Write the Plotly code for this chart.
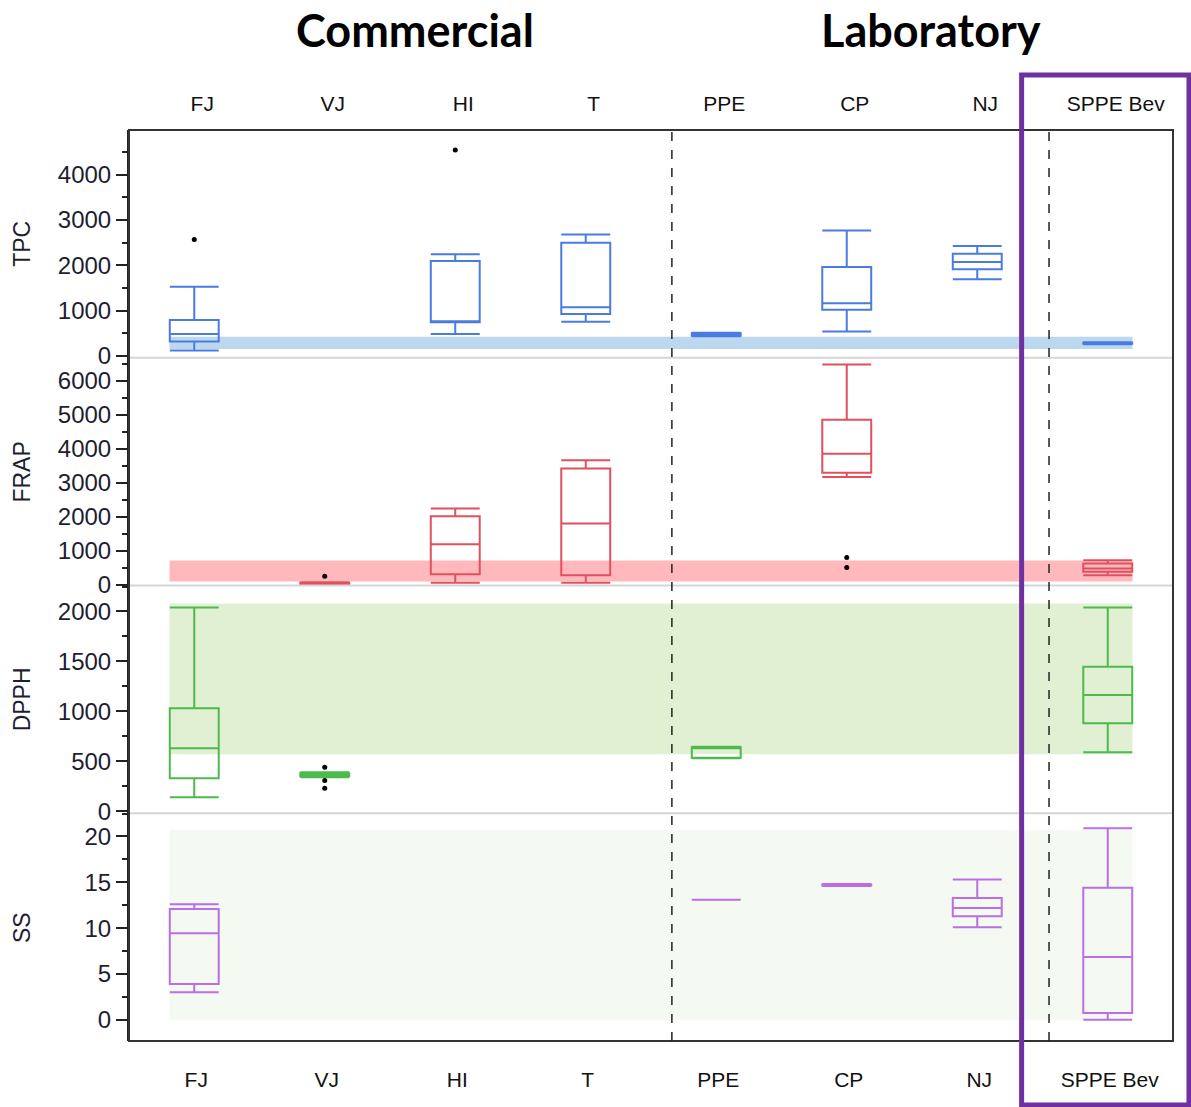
import plotly.graph_objects as go
from plotly.subplots import make_subplots

categories = ["FJ", "VJ", "HI", "T", "PPE", "CP", "NJ", "SPPE Bev"]

# TPC
tpc_lower  = [117, None, 483, 754, 430, 534, 1692, 255]
tpc_q1     = [315, None, 740, 923, 440, 1018, 1912, 265]
tpc_median = [483, None, 765, 1070, 470, 1158, 2073, 279]
tpc_q3     = [791, None, 2095, 2498, 500, 1963, 2256, 290]
tpc_upper  = [1523, None, 2242, 2681, 510, 2769, 2425, 300]
tpc_out_cat = ["FJ", "HI"]
tpc_out_val = [2571, 4549]
tpc_ref = [150, 420]

# FRAP
frap_lower  = [None, 0, 50, 50, None, 3167, None, 274]
frap_q1     = [None, 15, 303, 274, None, 3294, None, 373]
frap_median = [None, 35, 1186, 1794, None, 3853, None, 470]
frap_q3     = [None, 55, 2010, 3412, None, 4853, None, 618]
frap_upper  = [None, 70, 2235, 3657, None, 6480, None, 715]
frap_out_cat = ["VJ", "CP", "CP"]
frap_out_val = [245, 794, 500]
frap_ref = [90, 705]

# DPPH
dpph_lower  = [140, 340, None, None, 530, None, None, 590]
dpph_q1     = [330, 350, None, None, 535, None, None, 880]
dpph_median = [630, 365, None, None, 630, None, None, 1163]
dpph_q3     = [1030, 380, None, None, 640, None, None, 1447]
dpph_upper  = [2040, 390, None, None, 645, None, None, 2040]
dpph_out_cat = ["VJ", "VJ", "VJ"]
dpph_out_val = [440, 307, 230]
dpph_ref = [570, 2080]

# SS
ss_lower  = [3.0, None, None, None, 13.1, 14.6, 10.1, 0.0]
ss_q1     = [3.9, None, None, None, 13.1, 14.65, 11.3, 0.74]
ss_median = [9.45, None, None, None, 13.1, 14.7, 12.2, 6.85]
ss_q3     = [12.1, None, None, None, 13.1, 14.75, 13.3, 14.4]
ss_upper  = [12.6, None, None, None, 13.1, 14.8, 15.3, 20.9]
ss_ref = [0, 20.7]

panels = [
    ("TPC", tpc_lower, tpc_q1, tpc_median, tpc_q3, tpc_upper, tpc_out_cat, tpc_out_val, tpc_ref,
     "#4a7be0", "#bcd8ee", [-44, 4989], 1000, 500),
    ("FRAP", frap_lower, frap_q1, frap_median, frap_q3, frap_upper, frap_out_cat, frap_out_val, frap_ref,
     "#e0505f", "#ffb9bd", [-29, 6676], 1000, 500),
    ("DPPH", dpph_lower, dpph_q1, dpph_median, dpph_q3, dpph_upper, dpph_out_cat, dpph_out_val, dpph_ref,
     "#4cba4c", "#e1efd3", [-20, 2260], 500, 250),
    ("SS", ss_lower, ss_q1, ss_median, ss_q3, ss_upper, [], [], ss_ref,
     "#bb6ee6", "#f4f9f2", [-2.31, 22.53], 5, 2.5),
]

fig = make_subplots(rows=4, cols=1, shared_xaxes=True, vertical_spacing=0)

pos = list(range(len(categories)))
box_w = 0.375
label_font = dict(family="Liberation Sans, Arial", size=24, color="#1e1e30")

for r, (name, lo, q1, med, q3, up, ocat, oval, ref, col, band, yr, dt, mdt) in enumerate(panels, start=1):
    idx = [i for i in pos if q1[i] is not None]
    fig.add_trace(go.Box(
        x=idx,
        lowerfence=[lo[i] for i in idx],
        q1=[q1[i] for i in idx],
        median=[med[i] for i in idx],
        q3=[q3[i] for i in idx],
        upperfence=[up[i] for i in idx],
        width=box_w, whiskerwidth=1,
        line=dict(color=col, width=2),
        fillcolor="rgba(0,0,0,0)",
        boxpoints=False, showlegend=False, hoverinfo="skip",
    ), row=r, col=1)
    if oval:
        fig.add_trace(go.Scatter(
            x=[categories.index(c) for c in ocat], y=oval, mode="markers",
            marker=dict(color="black", size=5), showlegend=False, hoverinfo="skip",
        ), row=r, col=1)
    sfx = r if r > 1 else ""
    fig.add_shape(type="rect", xref=f"x{sfx}", yref=f"y{sfx}",
                  x0=-0.19, x1=7.19, y0=ref[0], y1=ref[1],
                  fillcolor=band, line=dict(width=0), layer="below")
    fig.update_yaxes(
        row=r, col=1, range=yr, dtick=dt, tick0=0, automargin=False,
        showline=True, linecolor="#222", linewidth=2,
        ticks="outside", ticklen=11, tickwidth=2, tickcolor="#222",
        minor=dict(dtick=mdt, tick0=0, ticks="outside", ticklen=5, tickwidth=2, tickcolor="#222"),
        showgrid=False, zeroline=False, tickfont=label_font,
    )
    fig.add_annotation(text=name, xref="paper", yref=f"y{sfx} domain", x=-0.1025, y=0.5,
                       textangle=-90, showarrow=False, xanchor="center", yanchor="middle",
                       font=dict(family="Liberation Sans, Arial", size=23, color="#1e1e30"))

for r in range(1, 5):
    fig.update_xaxes(row=r, col=1, range=[-0.5, 7.5], tickmode="array", tickvals=pos,
                     ticktext=categories, showgrid=False, zeroline=False, showline=False,
                     showticklabels=False, ticks="", automargin=False)

fig.update_xaxes(row=1, col=1, side="top", showticklabels=True, ticklabelstandoff=14,
                 ticklabelshift=8,
                 tickfont=dict(family="Liberation Sans, Arial", size=21, color="#111"))
fig.update_xaxes(row=4, col=1, showticklabels=True, ticklabelstandoff=24,
                 ticklabelshift=2,
                 tickfont=dict(family="Liberation Sans, Arial", size=21, color="#111"))

# panel separators
for yb in [0.25, 0.5, 0.75]:
    fig.add_shape(type="line", xref="paper", yref="paper", x0=0, x1=1, y0=yb, y1=yb,
                  line=dict(color="#d6d6d6", width=2))
# frame
fig.add_shape(type="rect", xref="paper", yref="paper", x0=0, x1=1, y0=0, y1=1,
              line=dict(color="#333", width=2))
# dashed group dividers
for xd in [3.66, 6.55]:
    fig.add_shape(type="line", xref="x", yref="paper", x0=xd, x1=xd, y0=0, y1=1,
                  line=dict(color="#222", width=1.5, dash="dash"))
# purple highlight
fig.add_shape(type="rect", xref="paper", yref="paper", x0=0.855, x1=1.0153, y0=-0.0703, y1=1.0604,
              line=dict(color="#7030a0", width=5))

for txt, xp in [("Commercial", 0.274), ("Laboratory", 0.768)]:
    fig.add_annotation(text=f"<b>{txt}</b>", xref="paper", yref="paper", x=xp, y=1.1098,
                       showarrow=False, xanchor="center", yanchor="middle",
                       font=dict(family="Lato, Open Sans", size=45, color="black"))

fig.update_layout(
    width=1191, height=1107,
    margin=dict(l=129, r=18, t=130, b=66, autoexpand=False),
    plot_bgcolor="white", paper_bgcolor="white",
    boxmode="overlay", showlegend=False,
)

fig.write_html("out.html", config={"displayModeBar": False},
               post_script="document.body.style.margin='0px';")
